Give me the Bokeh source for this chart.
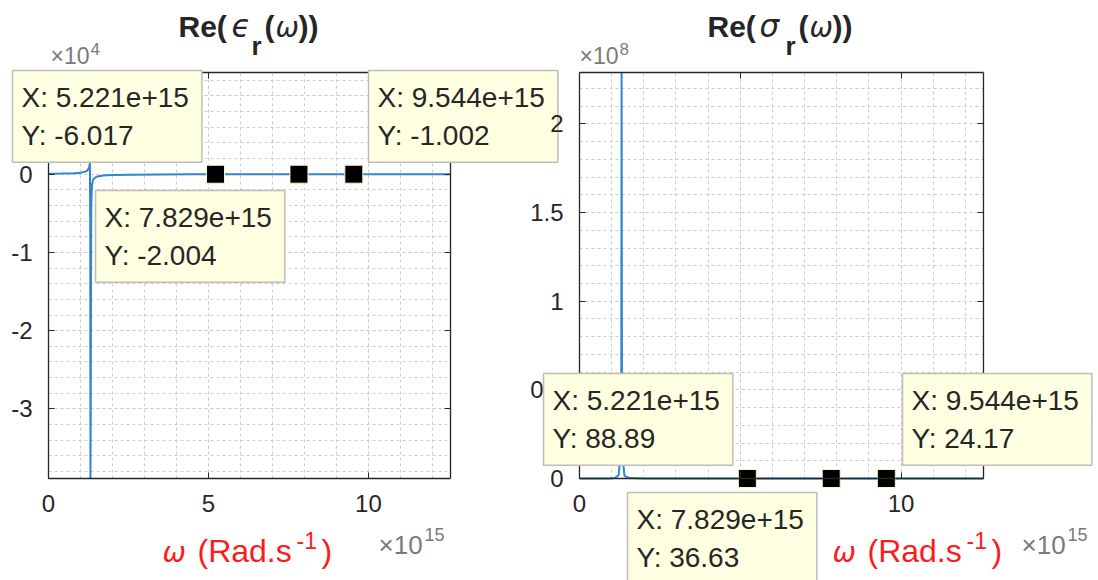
import numpy as np
from bokeh.plotting import figure
from bokeh.layouts import row
from bokeh.models import (Label, LinearAxis, SingleIntervalTicker,
                          CustomJSTickFormatter, Range1d)
from bokeh.embed import file_html
from bokeh.resources import INLINE

# ---------------- data ----------------
omega_eps = [0.0, 0.40e15, 0.80e15, 1.00e15, 1.15e15, 1.22e15, 1.27e15, 1.295e15,
             1.305e15, 1.312e15, 1.32e15, 1.335e15, 1.36e15, 1.40e15, 1.50e15,
             1.70e15, 2.00e15, 2.60e15, 3.50e15, 4.50e15, 5.221e15, 6.50e15,
             7.829e15, 9.544e15, 11.0e15, 12.566e15]
re_eps = [60, 80, 130, 190, 330, 500, 850, 1450,
          -8000, -52000, -30000, -4200, -1300, -650, -330,
          -180, -110, -60, -30, -15, -6.017, -3.6,
          -2.004, -1.002, -0.5, -0.2]

omega_sig = [0.0, 0.50e15, 0.90e15, 1.10e15, 1.22e15, 1.28e15, 1.30e15, 1.31e15,
             1.32e15, 1.34e15, 1.40e15, 1.55e15, 2.00e15, 3.00e15, 5.221e15,
             7.829e15, 9.544e15, 12.566e15]
re_sig = [0, 4e3, 4e4, 3e5, 2e6, 1.5e7, 6e7, 4.0e8,
          6e7, 1.2e7, 1.5e6, 2.5e5, 3e4, 3e3, 88.89,
          36.63, 24.17, 13]

tip_omega = [5.221e15, 7.829e15, 9.544e15]
tip_eps = [-6.017, -2.004, -1.002]
tip_sig = [88.89, 36.63, 24.17]

x_limits = (0, 12.566e15)
eps_limits = (-3.89e4, 1.30e4)
sig_limits = (0, 2.29e8)

# ---------------- styling ----------------
H = 580
BOX_TOP, BOX_BOTTOM = 72, 478       # pixel rows of the axes boxes
BASE_SHIFT = 0.4                    # baseline correction (fraction of font size)
DARK = "#262626"
LINE = "#2f86cf"
TIP_BG = "#ffffe1"
TIP_BORDER = "#bdbdbd"
RED = "#ff1a1a"
GRAY = "#7a7a7a"
GRID = "#cccccc"
FONT = "Liberation Sans"
GREEK = "DejaVu Sans"


class Panel:
    """A figure whose frame covers its whole canvas; the axes box is placed
    at a pixel rectangle through extended ranges and fixed-location axes."""

    def __init__(self, width, canvas_left, box_left, box_right, ylim, yint, ycode):
        self.cl = canvas_left
        bl, br = box_left - canvas_left, box_right - canvas_left
        sx = (x_limits[1] - x_limits[0]) / (br - bl)
        sy = (ylim[1] - ylim[0]) / (BOX_BOTTOM - BOX_TOP)
        xr = Range1d(x_limits[0] - bl * sx, x_limits[1] + (width - br) * sx)
        yr = Range1d(ylim[0] - (H - BOX_BOTTOM) * sy, ylim[1] + BOX_TOP * sy)
        p = figure(width=width, height=H, x_range=xr, y_range=yr,
                   output_backend="svg", toolbar_location=None, title=None,
                   min_border=0, x_axis_location="below", y_axis_location="left")
        p.outline_line_color = None
        xt = SingleIntervalTicker(interval=5e15, num_minor_ticks=5)
        yt = SingleIntervalTicker(interval=yint, num_minor_ticks=5)
        self._axis(p.xaxis[0], xt, "return String(Math.round(tick/1e15));",
                   ylim[0], x_limits)
        self._axis(p.yaxis[0], yt, ycode, x_limits[0], ylim)
        top = LinearAxis()
        self._axis(top, xt, "return '';", ylim[1], x_limits)
        p.add_layout(top, "above")
        rgt = LinearAxis()
        self._axis(rgt, yt, "return '';", x_limits[1], ylim)
        p.add_layout(rgt, "right")
        for g, tk, b, cb in ((p.xgrid[0], xt, x_limits, ylim),
                             (p.ygrid[0], yt, ylim, x_limits)):
            g.ticker = tk
            g.bounds = b
            g.cross_bounds = cb
            g.grid_line_color = GRID
            g.grid_line_dash = "3 3"
            g.minor_grid_line_color = GRID
            g.minor_grid_line_dash = "3 3"
        self.p = p
        self.ylim = ylim

    @staticmethod
    def _axis(ax, ticker, code, loc, bounds):
        ax.ticker = ticker
        ax.formatter = CustomJSTickFormatter(code=code)
        ax.fixed_location = loc
        ax.bounds = bounds
        ax.axis_line_color = DARK
        ax.axis_line_width = 1.3
        ax.major_tick_line_color = DARK
        ax.major_tick_in = 6
        ax.major_tick_out = 0
        ax.minor_tick_line_color = None
        ax.major_label_text_font = FONT
        ax.major_label_text_font_size = "24px"
        ax.major_label_text_color = DARK
        ax.major_label_standoff = 12

    def txt(self, s, px, py, size, color=DARK, font=FONT, style="normal"):
        """px, py: pixel position (left, baseline) in the picture."""
        self.p.add_layout(Label(x=px - self.cl, y=H - py + BASE_SHIFT * size,
                                x_units="screen", y_units="screen", text=s,
                                text_font=font, text_font_size=f"{size}px",
                                text_font_style=style, text_color=color,
                                text_align="left", text_baseline="alphabetic"))

    def tip(self, xv, yv, px, py):
        """data tip box whose top-left corner is at pixel (px, py)."""
        self.p.add_layout(Label(x=px - self.cl, y=H - py, x_units="screen",
                                y_units="screen",
                                text=f"X: {xv:.3e}\nY: {yv:.4g}",
                                text_font=FONT, text_font_size="28px",
                                text_color=DARK, text_align="left",
                                text_baseline="top", text_line_height=1.25,
                                background_fill_color=TIP_BG,
                                border_line_color=TIP_BORDER, border_line_width=1.5,
                                padding=dict(left=9, right=13, top=11, bottom=11)))

    def curve(self, xs, ys):
        self.p.line(xs, np.clip(ys, *self.ylim), line_color=LINE, line_width=2)

    def markers(self, xs, ys):
        self.p.scatter(xs, ys, marker="square", size=18, fill_color="black",
                       line_color="#fff6c0", line_width=1)

    def title(self, greek, x0, gx, extra):
        self.txt("Re(", x0, 38, 30, style="bold")
        self.txt(greek, x0 + gx, 38, 31, font=GREEK, style="italic")
        self.txt("r", x0 + 73 + extra, 56, 26, style="bold")
        self.txt("(", x0 + 86 + extra, 38, 30, style="bold")
        self.txt("\u03c9", x0 + 97 + extra, 38, 28, font=GREEK, style="italic")
        self.txt("))", x0 + 120 + extra, 38, 30, style="bold")

    def xlabel(self, x0, e0):
        self.txt("\u03c9", x0, 563, 28, color=RED, font=GREEK, style="italic")
        self.txt("(Rad.s", x0 + 35, 563, 32, color=RED)
        self.txt("-1", x0 + 134, 549, 23, color=RED)
        self.txt(")", x0 + 159, 563, 32, color=RED)
        self.txt("\u00d710", e0, 555, 26, color=GRAY)
        self.txt("15", e0 + 46, 541, 18, color=GRAY)

    def yexp(self, exp, x0):
        self.txt("\u00d710", x0, 65, 23, color=GRAY)
        self.txt(exp, x0 + 40, 55, 17, color=GRAY)


# ---------------- left: Re(eps_r) ----------------
L = Panel(560, 0, 48, 450, eps_limits, 1e4,
          "return String(Math.round(tick/1e4));")
L.curve(omega_eps, re_eps)
L.markers(tip_omega, tip_eps)
L.title("\u03f5", 178, 53, 0)
L.xlabel(162, 378)
L.yexp("4", 50)
L.tip(tip_omega[0], tip_eps[0], 12, 70)
L.tip(tip_omega[1], tip_eps[1], 95, 190)
L.tip(tip_omega[2], tip_eps[2], 368, 70)

# ---------------- right: Re(sigma_r) ----------------
R = Panel(568, 530, 579, 983, sig_limits, 0.5e8,
          "return String(Math.round(tick/1e7)/10);")
R.p.border_fill_color = None
R.p.background_fill_color = None
R.curve(omega_sig, re_sig)
R.markers(tip_omega, tip_sig)
R.title("\u03c3", 707, 52, 5)
R.xlabel(832, 1021)
R.yexp("8", 579)
R.tip(tip_omega[0], tip_sig[0], 543, 373)
R.tip(tip_omega[1], tip_sig[1], 627, 492)
R.tip(tip_omega[2], tip_sig[2], 902, 373)
R.p.margin = (0, 0, 0, -30)

layout = row(L.p, R.p)
open("out.html", "w").write(file_html(layout, INLINE))
